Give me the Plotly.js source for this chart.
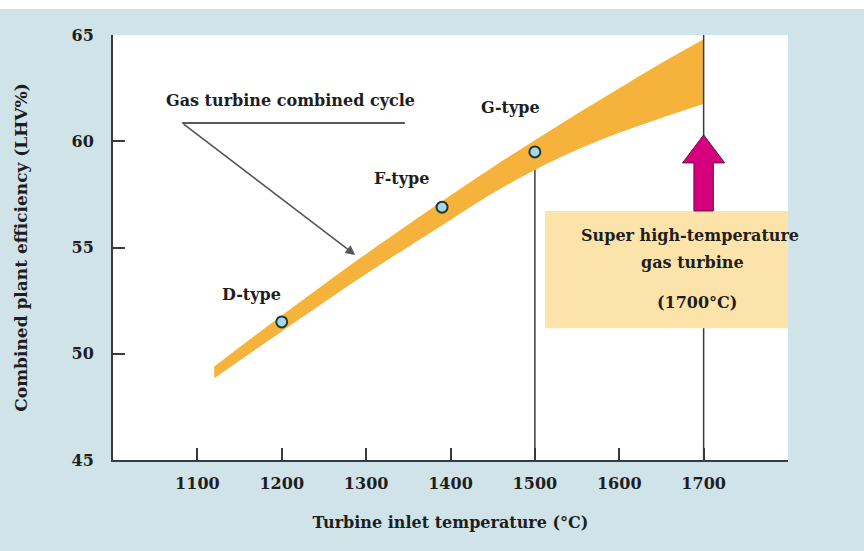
<!DOCTYPE html>
<html><head><meta charset="utf-8">
<script src="https://cdn.plot.ly/plotly-3.0.1.min.js"></script>
<style>html,body{margin:0;padding:0;background:#cfe3e9}</style>
</head><body><div id="chart" style="width:864px;height:551px"></div>
<script>
// Efficiency band of gas turbine combined cycle
const bandX = [1120, 1200, 1300, 1400, 1450, 1500, 1550, 1600, 1650, 1700];
const bandUpper = [49.4, 51.8, 54.7, 57.45, 58.78, 60.05, 61.3, 62.5, 63.68, 64.8];
const bandLower = [48.85, 51.05, 53.75, 56.3, 57.55, 58.65, 59.6, 60.4, 61.1, 61.75];
// Turbine types
const typeNames = ['D-type', 'F-type', 'G-type'];
const typeTemp = [1200, 1390, 1500];
const typeEff = [51.5, 56.9, 59.5];
// Axis ticks
const xTickVals = [1100, 1200, 1300, 1400, 1500, 1600, 1700, 1800];
const xTickText = ['1100', '1200', '1300', '1400', '1500', '1600', '1700', ''];
const yTickVals = [45, 50, 55, 60, 65];
const targetTemp = 1700;
const boxLines = ['Super high-temperature', 'gas turbine', '(1700°C)'];
const cycleLabel = 'Gas turbine combined cycle';

const FONT = 'DejaVu Serif';
const TXT = '#1e1e1e';
const AX = '#3a3a3a';

const traces = [
  {x: bandX, y: bandLower, mode: 'lines', line: {width: 0, shape: 'spline', color: '#f6b33c'}, hoverinfo: 'skip', showlegend: false},
  {x: bandX, y: bandUpper, mode: 'lines', fill: 'tonexty', fillcolor: '#f6b33c', line: {width: 0, shape: 'spline', color: '#f6b33c'}, hoverinfo: 'skip', showlegend: false},
  {x: typeTemp, y: typeEff, mode: 'markers', marker: {size: 11, color: '#a6d6e8', line: {color: '#1f3a36', width: 2}}, showlegend: false}
];

const shapes = [
  {type: 'line', xref: 'x', yref: 'y', x0: typeTemp[2], x1: typeTemp[2], y0: 45, y1: typeEff[2], line: {color: AX, width: 1.5}, layer: 'below'},
  {type: 'line', xref: 'x', yref: 'y', x0: targetTemp, x1: targetTemp, y0: 45, y1: 65, line: {color: AX, width: 1.5}},
  {type: 'rect', xref: 'x', yref: 'y', x0: 1512, x1: 1800, y0: 51.2, y1: 56.72, fillcolor: '#fce3a9', line: {width: 0}},
  {type: 'path', xref: 'x', yref: 'y',
   path: 'M 1700 60.3 L 1725 58.98 L 1711.5 58.98 L 1711.5 56.72 L 1688.5 56.72 L 1688.5 58.98 L 1675 58.98 Z',
   fillcolor: '#d6007f', line: {color: '#5a1434', width: 1}},
  {type: 'line', xref: 'x', yref: 'y', x0: 1082, x1: 1346, y0: 60.86, y1: 60.86, line: {color: '#5a5a5a', width: 2}},
  {type: 'rect', xref: 'paper', yref: 'paper', x0: -0.2, x1: 1.2, y0: 1.061, y1: 1.09, fillcolor: '#ffffff', line: {width: 0}}
];

const offsets = [[-30, 27], [-41, 29], [-24, 44]];
const annotations = typeNames.map((t, i) => ({
  x: typeTemp[i], y: typeEff[i], xref: 'x', yref: 'y', text: t, showarrow: false,
  xshift: offsets[i][0], yshift: offsets[i][1],
  font: {family: FONT, size: 16, color: TXT, weight: 'bold'}
}));
annotations.push({x: 1287, y: 54.65, xref: 'x', yref: 'y', ax: 1082, ay: 60.86, axref: 'x', ayref: 'y',
  text: '', showarrow: true, arrowhead: 2, arrowsize: 1.2, arrowwidth: 1.6, arrowcolor: '#555'});
annotations.push({x: 1000 + (291 - 113) / 0.844, y: 45 + (460 - 100) / 21.25, xref: 'x', yref: 'y', text: cycleLabel, showarrow: false,
  font: {family: FONT, size: 16, color: TXT, weight: 'bold'}});
const boxY = [235, 262, 302];
const boxXc = [690, 693, 697];
boxLines.forEach((t, i) => annotations.push({
  x: 1000 + (boxXc[i] - 113) / 0.844, y: 45 + (460 - boxY[i]) / 21.25, xref: 'x', yref: 'y', text: t, showarrow: false,
  font: {family: FONT, size: 16, color: TXT, weight: 'bold'}
}));

const layout = {
  width: 864, height: 551,
  margin: {l: 113, r: 76, t: 35, b: 91},
  paper_bgcolor: '#cfe3e9', plot_bgcolor: '#ffffff',
  font: {family: FONT, color: TXT, size: 16},
  xaxis: {range: [1000, 1800], tickvals: xTickVals, ticktext: xTickText, ticks: 'inside', ticklen: 12, tickwidth: 2, tickcolor: AX,
    showline: true, linecolor: AX, linewidth: 2, showgrid: false, zeroline: false, ticklabelstandoff: 8,
    tickfont: {family: FONT, size: 16, color: TXT, weight: 'bold'},
    title: {text: 'Turbine inlet temperature (°C)', standoff: 25, font: {family: FONT, size: 16, color: TXT, weight: 'bold'}}},
  yaxis: {range: [45, 65], tickvals: yTickVals, ticks: 'inside', ticklen: 12, tickwidth: 2, tickcolor: AX,
    showline: true, linecolor: AX, linewidth: 2, showgrid: false, zeroline: false, ticklabelstandoff: 14,
    tickfont: {family: FONT, size: 16, color: TXT, weight: 'bold'},
    title: {text: 'Combined plant efficiency (LHV%)', standoff: 40, font: {family: FONT, size: 17, color: TXT, weight: 'bold'}}},
  shapes: shapes, annotations: annotations, showlegend: false
};
Plotly.newPlot('chart', traces, layout, {displayModeBar: false, staticPlot: true});
</script></body></html>
